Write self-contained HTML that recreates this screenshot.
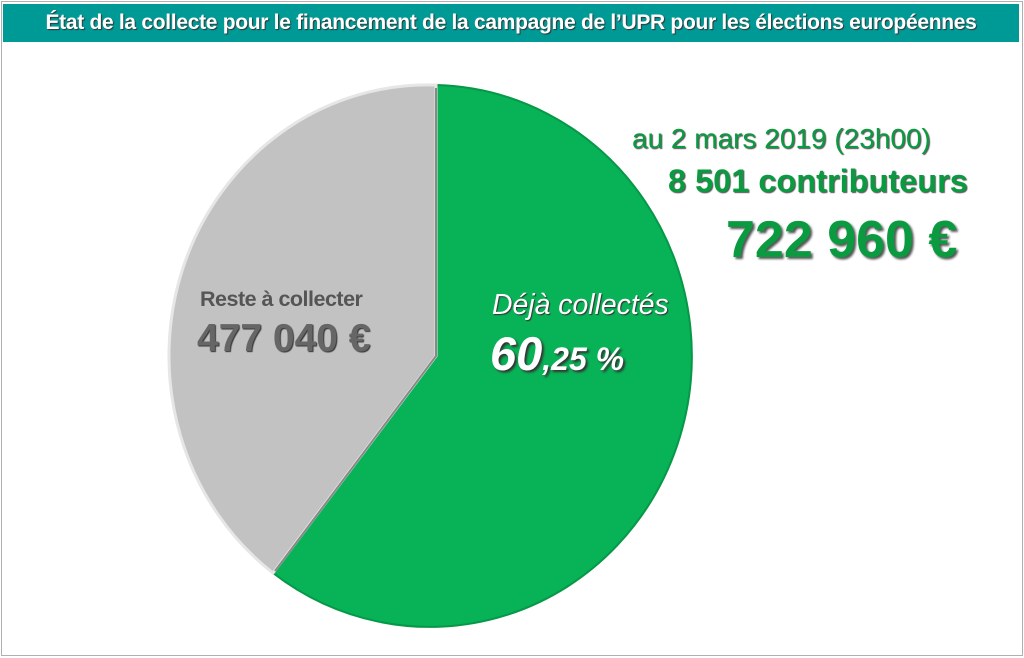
<!DOCTYPE html>
<html><head><meta charset="utf-8"><style>
body{margin:0;width:1024px;height:658px;background:#fff;overflow:hidden;font-family:"Liberation Sans",sans-serif}
.frame{position:absolute;left:1px;top:1px;width:1020px;height:653px;border:1px solid #b0b0b0}
.hdr{position:absolute;left:3px;top:4px;width:1016px;height:38px;background:#009a96;color:#fff;font:bold 21px "Liberation Sans Narrow","Liberation Sans",sans-serif;text-align:center;line-height:38px;text-shadow:1px 1px 1px #333;letter-spacing:-0.3px}
.t{position:absolute;white-space:nowrap}
</style></head><body>
<div class="frame"></div>
<div class="hdr">État de la collecte pour le financement de la campagne de l’UPR pour les élections européennes</div>
<svg width="1024" height="658" style="position:absolute;left:0;top:0">
<path d="M433,356 L433,85 A262,271 0 1 1 270,573 Z" fill="#08b256" transform="translate(3,0)" stroke="#069848" stroke-width="2"/>
<path d="M436,356 L273,573 A259,271 0 0 1 436,85 Z" fill="#c2c2c2" stroke="#e6e6e6" stroke-width="3"/>
<path d="M436,88 L436,356 L275,571" fill="none" stroke="#888" stroke-width="2"/>
</svg>
<div class="t" style="left:632px;top:123px;font-size:28px;color:#0a9a40;text-shadow:1px 1px 1px #555">au 2 mars 2019 (23h00)</div>
<div class="t" style="left:668px;top:163px;font-size:32.5px;font-weight:bold;color:#0a9a40;text-shadow:1px 1px 1px #555">8 501 contributeurs</div>
<div class="t" style="left:726px;top:210px;font-size:52px;font-weight:bold;color:#0a9a40;text-shadow:2px 2px 2px #555">722 960 €</div>
<div class="t" style="left:200px;top:287px;font-size:21.5px;font-weight:bold;color:#555;letter-spacing:-0.5px">Reste à collecter</div>
<div class="t" style="left:197px;top:317px;font-size:39px;font-weight:bold;color:#666;text-shadow:1px 1px 1px #333">477 040 €</div>
<div class="t" style="left:492px;top:289px;font-size:28.4px;font-style:italic;color:#fff;text-shadow:1px 1px 1px #333">Déjà collectés</div>
<div class="t" style="left:490px;top:326px;font-weight:bold;font-style:italic;color:#fff;text-shadow:2px 2px 2px #333"><span style="font-size:47px">60</span><span style="font-size:32px">,25 %</span></div>
</body></html>
